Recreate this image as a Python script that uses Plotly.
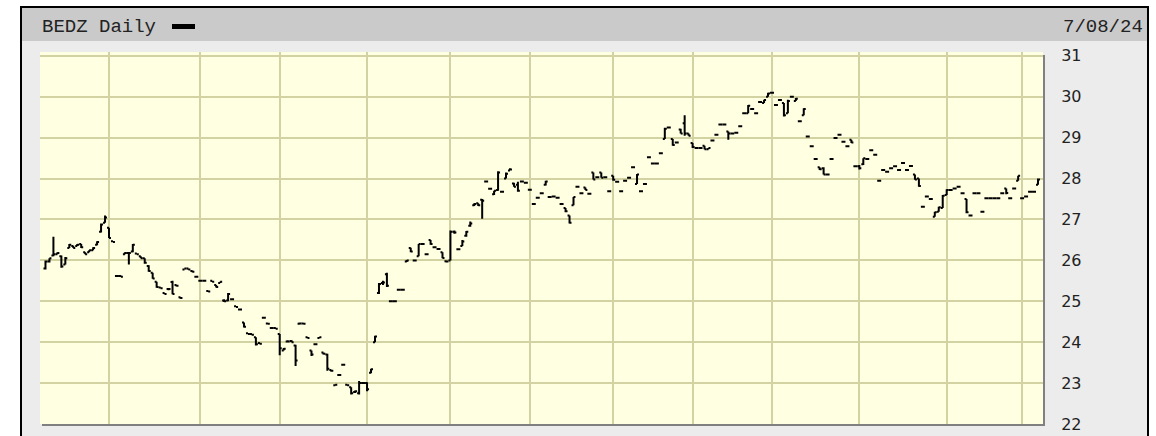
import plotly.graph_objects as go

# ---------------- data ----------------
title_text = "BEDZ Daily"
date_text = "7/08/24"
y_ticks = [22, 23, 24, 25, 26, 27, 28, 29, 30, 31]
# trading-day index of first session of each month (Aug 23 .. Jul 24)
month_starts = [16, 39, 59, 81, 102, 122, 143, 163, 183, 205, 227, 246]

opens = [
    25.80, 25.97, 26.12, 26.15, 26.10, 25.90, 26.30, 26.35, 26.35, 26.40,
    26.20, 26.20, 26.25, 26.38, 26.70, 26.92, 26.80, 26.47, 25.62, 25.62,
    26.15, 26.18, 26.22, 26.17, 26.10, 26.05, 25.86, 25.70, 25.48, 25.34,
    25.20, 25.30, 25.47, 25.40, 25.10, 25.78, 25.80, 25.74, 25.60, 25.50,
    25.50, 25.25, 25.50, 25.40, 25.45, 25.02, 25.02, 25.05, 24.88, 24.80,
    24.48, 24.22, 24.20, 24.12, 23.98, 24.60, 24.46, 24.35, 24.35, 24.20,
    23.80, 24.02, 24.03, 23.92, 24.45, 24.46, 24.12, 23.80, 23.95, 24.10,
    23.75, 23.70, 23.32, 22.95, 23.20, 23.45, 22.96, 22.90, 22.78, 22.75,
    23.00, 23.00, 23.25, 24.00, 25.20, 25.45, 25.66, 25.00, 25.00, 25.28,
    25.28, 25.97, 26.30, 26.00, 26.10, 26.40, 26.15, 26.50, 26.32, 26.28,
    26.20, 25.98, 26.00, 26.70, 26.27, 26.35, 26.60, 26.85, 27.35, 27.40,
    27.48, 27.93, 27.75, 27.62, 27.72, 27.68, 28.00, 28.20, 27.88, 27.85,
    27.93, 27.90, 27.73, 27.38, 27.53, 27.64, 27.85, 27.55, 27.56, 27.53,
    27.38, 27.28, 27.10, 27.35, 27.80, 27.64, 27.78, 27.63, 28.15, 28.03,
    28.15, 28.03, 27.69, 28.07, 27.92, 27.69, 27.95, 28.02, 28.28, 27.87,
    27.69, 27.87, 28.52, 28.37, 28.37, 28.62, 28.97, 29.25, 28.97, 28.88,
    29.20, 29.35, 29.10, 28.87, 28.75, 28.75, 28.80, 28.72, 28.93, 29.07,
    29.32, 29.32, 29.15, 29.10, 29.12, 29.28, 29.60, 29.60, 29.70, 29.60,
    29.87, 29.85, 30.00, 30.10, 29.80, 29.92, 29.85, 29.60, 30.00, 29.90,
    29.40, 29.55, 29.03, 28.79, 28.48, 28.28, 28.25, 28.10, 28.48, 28.99,
    29.07, 28.90, 28.79, 28.95, 28.30, 28.30, 28.35, 28.48, 28.69, 28.58,
    27.95, 28.21, 28.17, 28.25, 28.30, 28.21, 28.38, 28.21, 28.31, 28.10,
    28.00, 27.31, 27.56, 27.50, 27.07, 27.19, 27.28, 27.60, 27.72, 27.76,
    27.80, 27.64, 27.50, 27.10, 27.64, 27.64, 27.19, 27.52, 27.52, 27.52,
    27.52, 27.64, 27.76, 27.52, 27.76, 27.95, 27.52, 27.56, 27.68, 27.68,
    27.85,
]
highs = [
    26.00, 26.05, 26.58, 26.20, 26.12, 26.08, 26.40, 26.36, 26.40, 26.40,
    26.20, 26.25, 26.32, 26.47, 26.90, 27.10, 26.80, 26.47, 25.64, 25.63,
    26.20, 26.20, 26.40, 26.17, 26.10, 26.05, 25.88, 25.70, 25.48, 25.34,
    25.20, 25.31, 25.50, 25.40, 25.10, 25.80, 25.80, 25.75, 25.62, 25.50,
    25.52, 25.25, 25.50, 25.40, 25.48, 25.05, 25.20, 25.06, 24.88, 24.81,
    24.48, 24.22, 24.20, 24.12, 23.98, 24.62, 24.46, 24.36, 24.35, 24.20,
    23.86, 24.05, 24.05, 23.94, 24.48, 24.46, 24.12, 23.80, 23.96, 24.13,
    23.75, 23.72, 23.32, 22.97, 23.22, 23.46, 22.97, 22.90, 22.82, 23.05,
    23.02, 23.02, 23.35, 24.16, 25.45, 25.50, 25.70, 25.01, 25.01, 25.29,
    25.29, 26.01, 26.31, 26.02, 26.40, 26.41, 26.16, 26.50, 26.33, 26.29,
    26.20, 26.00, 26.73, 26.73, 26.28, 26.50, 26.72, 26.95, 27.40, 27.40,
    27.50, 27.94, 27.76, 27.70, 28.18, 27.69, 28.15, 28.25, 27.90, 27.92,
    27.94, 27.91, 27.74, 27.39, 27.54, 27.65, 27.95, 27.56, 27.57, 27.54,
    27.39, 27.28, 27.10, 27.55, 27.81, 27.65, 27.78, 27.64, 28.15, 28.04,
    28.15, 28.04, 27.70, 28.07, 27.93, 27.70, 27.96, 28.03, 28.29, 28.11,
    27.70, 27.88, 28.53, 28.38, 28.38, 28.63, 29.24, 29.26, 28.97, 28.89,
    29.22, 29.55, 29.10, 28.87, 28.76, 28.76, 28.80, 28.75, 28.94, 29.08,
    29.33, 29.33, 29.15, 29.11, 29.13, 29.29, 29.61, 29.80, 29.71, 29.61,
    29.88, 29.93, 30.10, 30.11, 29.81, 29.93, 29.85, 29.93, 30.01, 29.97,
    29.41, 29.72, 29.04, 28.80, 28.49, 28.28, 28.28, 28.11, 28.49, 29.00,
    29.08, 28.92, 28.80, 28.95, 28.31, 28.33, 28.50, 28.49, 28.70, 28.59,
    27.96, 28.22, 28.18, 28.26, 28.31, 28.22, 28.39, 28.22, 28.32, 28.10,
    28.00, 27.32, 27.57, 27.51, 27.19, 27.31, 27.60, 27.74, 27.73, 27.77,
    27.81, 27.65, 27.50, 27.11, 27.65, 27.65, 27.20, 27.53, 27.53, 27.53,
    27.53, 27.65, 27.76, 27.53, 27.77, 28.07, 27.53, 27.57, 27.69, 27.69,
    28.00,
]
lows = [
    25.78, 25.95, 26.10, 26.15, 25.82, 25.90, 26.30, 26.30, 26.35, 26.30,
    26.15, 26.20, 26.25, 26.37, 26.68, 26.92, 26.55, 26.45, 25.60, 25.60,
    26.15, 25.90, 26.20, 26.15, 26.05, 25.92, 25.72, 25.55, 25.33, 25.31,
    25.17, 25.27, 25.17, 25.36, 25.06, 25.78, 25.77, 25.71, 25.60, 25.49,
    25.50, 25.24, 25.47, 25.34, 25.45, 24.98, 25.00, 25.04, 24.86, 24.79,
    24.36, 24.20, 24.17, 23.92, 23.95, 24.60, 24.44, 24.34, 24.32, 23.68,
    23.80, 24.00, 24.00, 23.42, 24.45, 24.44, 24.10, 23.66, 23.94, 24.10,
    23.70, 23.30, 23.28, 22.95, 23.20, 23.43, 22.95, 22.72, 22.76, 22.72,
    22.99, 22.80, 23.24, 24.00, 25.18, 25.40, 25.35, 24.99, 24.99, 25.27,
    25.27, 25.96, 26.20, 26.00, 26.10, 26.39, 26.14, 26.38, 26.31, 26.26,
    26.05, 25.95, 26.00, 26.65, 26.26, 26.35, 26.58, 26.82, 27.33, 27.33,
    27.02, 27.92, 27.74, 27.60, 27.70, 27.67, 28.00, 28.20, 27.80, 27.68,
    27.92, 27.89, 27.72, 27.37, 27.52, 27.63, 27.83, 27.54, 27.55, 27.52,
    27.37, 27.18, 26.90, 27.35, 27.79, 27.63, 27.72, 27.62, 27.98, 28.02,
    28.02, 28.02, 27.68, 27.95, 27.91, 27.68, 27.94, 28.01, 28.27, 27.87,
    27.68, 27.86, 28.51, 28.36, 28.36, 28.61, 28.97, 29.24, 28.80, 28.87,
    29.10, 29.05, 29.05, 28.75, 28.74, 28.74, 28.72, 28.72, 28.92, 29.06,
    29.31, 29.31, 28.95, 29.09, 29.11, 29.27, 29.59, 29.60, 29.69, 29.59,
    29.86, 29.85, 30.00, 30.09, 29.79, 29.91, 29.52, 29.60, 29.99, 29.90,
    29.39, 29.55, 29.02, 28.78, 28.47, 28.21, 28.10, 28.09, 28.47, 28.98,
    29.06, 28.89, 28.78, 28.87, 28.29, 28.22, 28.33, 28.47, 28.68, 28.57,
    27.94, 28.20, 28.16, 28.24, 28.29, 28.20, 28.37, 28.20, 28.30, 27.97,
    27.80, 27.30, 27.55, 27.49, 27.07, 27.19, 27.28, 27.60, 27.71, 27.75,
    27.79, 27.63, 27.15, 27.09, 27.63, 27.63, 27.18, 27.51, 27.51, 27.51,
    27.51, 27.63, 27.62, 27.51, 27.75, 27.95, 27.51, 27.55, 27.67, 27.67,
    27.85,
]
closes = [
    25.97, 26.05, 26.15, 26.18, 25.85, 26.05, 26.38, 26.30, 26.38, 26.32,
    26.15, 26.25, 26.30, 26.45, 26.88, 27.05, 26.55, 26.45, 25.62, 25.60,
    26.18, 26.18, 26.38, 26.15, 26.05, 25.94, 25.74, 25.56, 25.35, 25.32,
    25.18, 25.30, 25.18, 25.38, 25.08, 25.80, 25.78, 25.72, 25.60, 25.50,
    25.50, 25.24, 25.48, 25.35, 25.48, 25.00, 25.18, 25.05, 24.86, 24.80,
    24.38, 24.20, 24.18, 23.95, 23.96, 24.60, 24.45, 24.35, 24.33, 23.85,
    23.84, 24.02, 24.00, 23.55, 24.46, 24.45, 24.10, 23.70, 23.95, 24.12,
    23.72, 23.35, 23.30, 22.96, 23.20, 23.45, 22.95, 22.75, 22.80, 23.00,
    23.00, 22.85, 23.34, 24.14, 25.42, 25.46, 25.38, 25.00, 25.00, 25.28,
    25.28, 26.00, 26.22, 26.00, 26.40, 26.40, 26.15, 26.40, 26.32, 26.28,
    26.06, 25.97, 26.70, 26.68, 26.27, 26.46, 26.70, 26.90, 27.38, 27.35,
    27.46, 27.93, 27.75, 27.70, 28.15, 27.68, 28.12, 28.22, 27.80, 27.70,
    27.93, 27.90, 27.73, 27.38, 27.53, 27.64, 27.93, 27.55, 27.56, 27.53,
    27.38, 27.20, 26.92, 27.55, 27.80, 27.64, 27.72, 27.63, 27.98, 28.03,
    28.02, 28.03, 27.69, 27.97, 27.92, 27.69, 27.95, 28.02, 28.28, 28.10,
    27.69, 27.87, 28.52, 28.37, 28.37, 28.62, 29.22, 29.25, 28.82, 28.88,
    29.10, 29.10, 29.05, 28.77, 28.75, 28.75, 28.72, 28.75, 28.93, 29.07,
    29.32, 29.32, 29.10, 29.10, 29.12, 29.28, 29.60, 29.78, 29.70, 29.60,
    29.87, 29.92, 30.08, 30.10, 29.80, 29.92, 29.55, 29.90, 30.00, 29.95,
    29.40, 29.70, 29.03, 28.79, 28.48, 28.23, 28.10, 28.10, 28.48, 28.99,
    29.07, 28.90, 28.79, 28.88, 28.30, 28.25, 28.50, 28.48, 28.69, 28.58,
    27.95, 28.21, 28.17, 28.25, 28.30, 28.21, 28.38, 28.21, 28.31, 27.98,
    27.82, 27.31, 27.56, 27.50, 27.18, 27.30, 27.58, 27.72, 27.72, 27.76,
    27.80, 27.64, 27.18, 27.10, 27.64, 27.64, 27.19, 27.52, 27.52, 27.52,
    27.52, 27.64, 27.65, 27.52, 27.76, 28.07, 27.52, 27.56, 27.68, 27.68,
    27.98,
]
days = list(range(len(closes)))

# ---------------- layout geometry (pixels) ----------------
W, H = 1156, 436
L, R, T, B = 40, 1043, 52, 424


def px(x):
    return (x - L) / (R - L)


def py(y):
    return (B - y) / (B - T)


fig = go.Figure()
fig.add_trace(go.Ohlc(
    x=days, open=opens, high=highs, low=lows, close=closes,
    increasing=dict(line=dict(color="black", width=2)),
    decreasing=dict(line=dict(color="black", width=2)),
    tickwidth=0.5, hoverinfo="skip", showlegend=False,
))

shapes = [
    # outer frame
    dict(type="rect", xref="paper", yref="paper", x0=px(21), x1=px(1148), y0=py(7), y1=py(450),
         fillcolor="#ececec", line=dict(color="black", width=2), layer="below"),
    # header bar
    dict(type="rect", xref="paper", yref="paper", x0=px(22), x1=px(1147), y0=py(8), y1=py(41),
         fillcolor="#cacaca", line=dict(width=0), layer="below"),
    # plot shadow
    dict(type="rect", xref="paper", yref="paper", x0=px(L + 2), x1=px(R + 2), y0=py(T + 3), y1=py(B + 2),
         fillcolor="#808080", line=dict(width=0), layer="below"),
    # plot area
    dict(type="rect", xref="paper", yref="paper", x0=0, x1=1, y0=0, y1=1,
         fillcolor="#ffffe2", line=dict(width=0), layer="below"),
    # legend swatch
    dict(type="rect", xref="paper", yref="paper", x0=px(172), x1=px(195), y0=py(24), y1=py(29),
         fillcolor="black", line=dict(width=0)),
]

annotations = [
    dict(xref="paper", yref="paper", x=px(40), y=py(27), text=title_text, showarrow=False,
         xanchor="left", yanchor="middle",
         font=dict(family="Liberation Mono", size=19, color="#222222")),
    dict(xref="paper", yref="paper", x=px(1145), y=py(27), text=date_text, showarrow=False,
         xanchor="right", yanchor="middle",
         font=dict(family="Liberation Mono", size=19, color="#222222")),
]

grid_color = "#d2d2a2"
fig.update_layout(
    width=W, height=H,
    margin=dict(l=L, r=W - R, t=T, b=H - B, pad=0, autoexpand=False),
    paper_bgcolor="white", plot_bgcolor="rgba(0,0,0,0)",
    shapes=shapes, annotations=annotations, showlegend=False,
    xaxis=dict(range=[-1.38, 251.26], tickvals=month_starts, showticklabels=False,
               showgrid=True, gridcolor=grid_color, gridwidth=2, zeroline=False, automargin=False,
               showline=False, ticks="", rangeslider=dict(visible=False), fixedrange=True),
    yaxis=dict(range=[22, 31.095], side="right", tickvals=y_ticks, ticktext=[str(v) for v in y_ticks],
               showgrid=True, gridcolor=grid_color, gridwidth=2, zeroline=False, showline=False,
               automargin=False,
               ticks="outside", ticklen=14, tickcolor="rgba(0,0,0,0)",
               tickfont=dict(family="DejaVu Sans", size=16, color="#222222"), fixedrange=True),
)

fig.write_html(
    "out.html",
    config={"displayModeBar": False, "staticPlot": True},
    post_script="document.body.style.margin='0px'; document.body.style.overflow='hidden';",
)
